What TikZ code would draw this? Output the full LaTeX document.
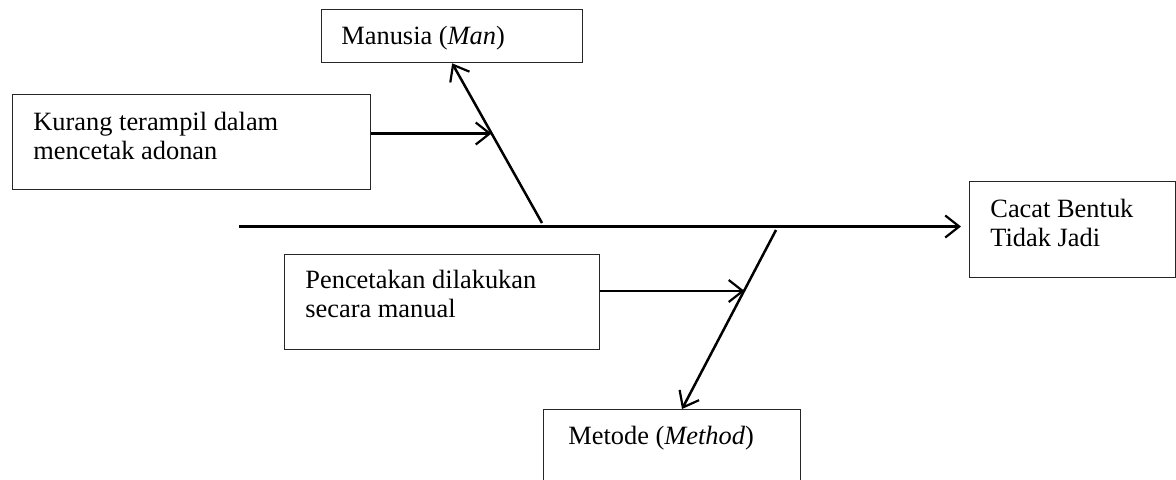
\documentclass[tikz,border=0pt]{standalone}
\usepackage{fontspec}
\setmainfont{Liberation Serif}
\usetikzlibrary{arrows.meta}
\begin{document}
\begin{tikzpicture}[x=0.5pt,y=-0.5pt,
  box/.style={draw=black!85, line width=0.65pt, inner sep=0, anchor=north west, shape=rectangle},
  lbl/.style={anchor=base west, inner sep=0, font=\fontsize{13.2}{14.5}\selectfont},
  bone/.style={line width=1.25pt, -{Straight Barb[length=7pt,width=11pt,line width=1.1pt]}}]
\useasboundingbox (0,0) rectangle (1176,479);
\clip (0,0) rectangle (1176,479);
% boxes
\node[box, minimum width=130.5pt, minimum height=26.5pt] (man) at (321,9) {};
\node[box, minimum width=179pt, minimum height=47.5pt] (kurang) at (12,94) {};
\node[box, minimum width=103pt, minimum height=48pt] (cacat) at (969,181) {};
\node[box, minimum width=157.5pt, minimum height=47.5pt] (cetak) at (284,254) {};
\node[box, minimum width=128.5pt, minimum height=47.5pt] (metode) at (543,409) {};
% labels
\node[lbl] (manT) at (341,44) {Manusia (\textit{Man})};
\node[lbl] (kurangT) at (33,130) {\parbox[t]{170pt}{Kurang terampil dalam\\mencetak adonan}};
\node[lbl] (cacatT) at (990,217) {\parbox[t]{95pt}{Cacat Bentuk\\Tidak Jadi}};
\node[lbl] (cetakT) at (305,288) {\parbox[t]{150pt}{Pencetakan dilakukan\\secara manual}};
\node[lbl] (metodeT) at (568,444) {Metode (\textit{Method})};
% spine
\coordinate (tail) at (239,226.5);
\draw[bone, shorten >=4pt] (tail) -- (tail -| cacat.west);
% man bone
\coordinate (m0) at (542,223);
\draw[bone] (m0) -- (man.south);
\coordinate (k1) at (491.5,133.5);
\draw[bone] (kurang.east |- k1) -- (k1);
% method bone
\coordinate (d0) at (776,230);
\draw[bone] (d0) -- (metode.north -| 682,0);
\coordinate (c1) at (744.5,291);
\draw[bone] (cetak.east |- c1) -- (c1);
\end{tikzpicture}
\end{document}
